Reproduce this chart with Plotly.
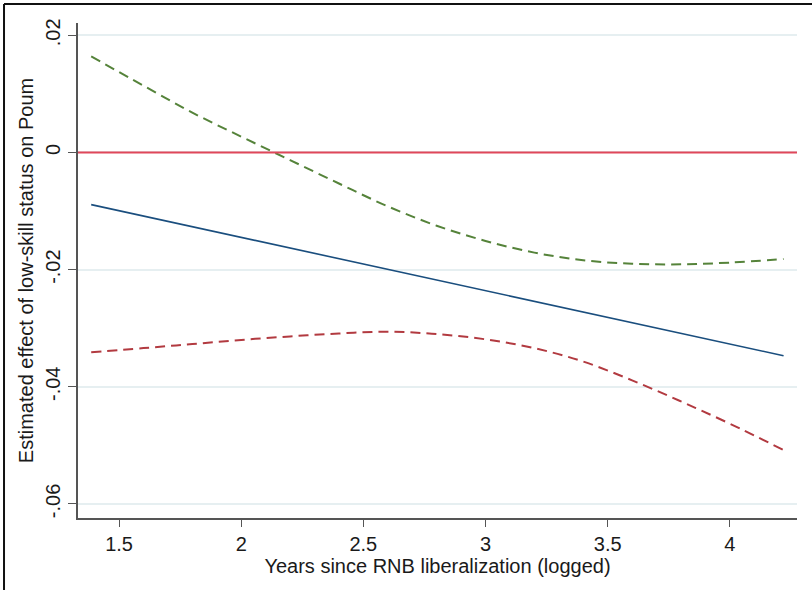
import plotly.graph_objects as go

# Data
x_grid = [1.386, 1.6, 1.8, 2.0, 2.2, 2.4, 2.6, 2.8, 3.0, 3.2, 3.4, 3.6, 3.8, 4.0, 4.22]
upper_ci = [0.0164, 0.0114, 0.0068, 0.0027, -0.0013, -0.0053, -0.0092, -0.0125,
            -0.0151, -0.0171, -0.0184, -0.0190, -0.0191, -0.0188, -0.0182]
lower_ci = [-0.0341, -0.0334, -0.0327, -0.0320, -0.0314, -0.0309, -0.0306, -0.0310,
            -0.0319, -0.0334, -0.0357, -0.0389, -0.0425, -0.0463, -0.0508]
effect_x = [1.386, 4.22]
effect_y = [-0.0089, -0.0347]

y_tickvals = [0.02, 0, -0.02, -0.04, -0.06]
y_ticktext = [".02", "0", "-.02", "-.04", "-.06"]
x_tickvals = [1.5, 2, 2.5, 3, 3.5, 4]
x_ticktext = ["1.5", "2", "2.5", "3", "3.5", "4"]

FONT = "Liberation Sans, Arial, Helvetica, sans-serif"

fig = go.Figure()
fig.add_hline(y=0, line=dict(color="#e0475a", width=2))
fig.add_trace(go.Scatter(x=x_grid, y=upper_ci, mode="lines", line_shape="spline",
                         line=dict(color="#55833a", width=2, dash="10px,6px"), showlegend=False))
fig.add_trace(go.Scatter(x=x_grid, y=lower_ci, mode="lines", line_shape="spline",
                         line=dict(color="#b23a40", width=2, dash="10px,6px"), showlegend=False))
fig.add_trace(go.Scatter(x=effect_x, y=effect_y, mode="lines",
                         line=dict(color="#1a4e7e", width=1.6), showlegend=False))

# outer frame (left and top edges visible in the reference)
# plot area: 719 px wide (starts at 78 px), 495 px tall (ends at 518 px)
fig.add_shape(type="line", xref="paper", yref="paper", x0=-0.1029, x1=-0.1029,
              y0=-0.2, y1=1.0384, line=dict(color="#111", width=2))
fig.add_shape(type="line", xref="paper", yref="paper", x0=-0.1029, x1=1.05,
              y0=1.0384, y1=1.0384, line=dict(color="#111", width=2))

fig.update_layout(
    width=812, height=590,
    margin=dict(l=78, r=15, t=23, b=72),
    paper_bgcolor="white", plot_bgcolor="white",
    font=dict(family=FONT, size=20, color="#1a1a1a"),
    xaxis=dict(range=[1.332, 4.275], tickvals=x_tickvals, ticktext=x_ticktext,
               showgrid=False, zeroline=False, showline=True, linecolor="#555",
               linewidth=2, ticks="outside", ticklen=7, tickcolor="#555",
               title=dict(text="Years since RNB liberalization (logged)",
                          font=dict(size=20), standoff=4)),
    yaxis=dict(range=[-0.0624, 0.0221], tickvals=y_tickvals, ticktext=y_ticktext,
               tickangle=-90, showgrid=True, gridcolor="#e6eff1", gridwidth=1.5,
               zeroline=False, showline=True, linecolor="#555", linewidth=2,
               ticks="outside", ticklen=8, tickcolor="#555",
               title=dict(text="Estimated effect of low-skill status on Poum",
                          font=dict(size=20), standoff=3)),
)

fig.write_html("out.html", config={"displayModeBar": False},
               post_script="document.body.style.margin='0px';document.body.style.overflow='hidden';")
